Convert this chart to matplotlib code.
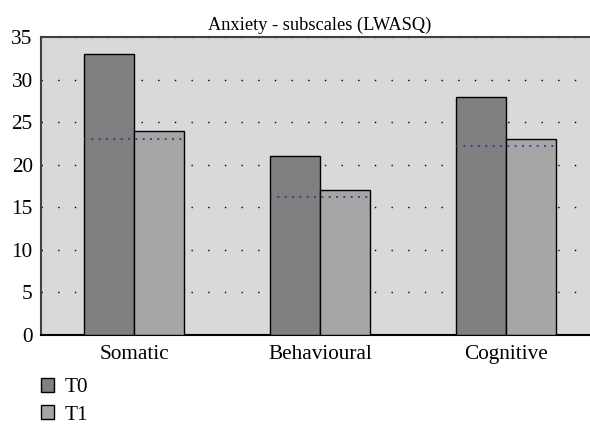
import matplotlib
matplotlib.use("Agg")
import matplotlib.pyplot as plt
from matplotlib.patches import Patch
import numpy as np

categories = ["Somatic", "Behavioural", "Cognitive"]
t0_values = [33, 21, 28]
t1_values = [24, 17, 23]
reference_values = [23, 16.2, 22.2]
series_labels = ["T0", "T1"]
y_ticks = [0, 5, 10, 15, 20, 25, 30, 35]

plt.rcParams['font.family'] = ['Liberation Serif', 'DejaVu Serif']

fig = plt.figure(figsize=(5.9, 4.25), dpi=100)
W, H = 590, 425
left, right, top, bottom = 41, 599, 37, 335
ax = fig.add_axes([left / W, 1 - bottom / H, (right - left) / W, (bottom - top) / H])
ax.set_facecolor('#d9d9d9')

x = np.arange(len(categories))
bw = 0.27
c0, c1 = '#808080', '#a6a6a6'
ax.bar(x - bw / 2, t0_values, bw, color=c0, edgecolor='black', linewidth=1.0, zorder=3)
ax.bar(x + bw / 2, t1_values, bw, color=c1, edgecolor='black', linewidth=1.0, zorder=3)
ax.hlines(reference_values, x - bw, x + bw * 0.95, colors='#2a3a8a',
          linestyles=(0, (1.2, 3.2)), linewidth=1.2, zorder=4)

ax.set_xlim(-0.5, 2.5)
ax.set_ylim(0, 35)
ax.set_yticks(y_ticks)
ax.set_xticks(x)
ax.set_xticklabels(categories)
ax.tick_params(axis='both', length=0, labelsize=15.3)
ax.tick_params(axis='x', pad=7)
ax.tick_params(axis='y', pad=6)
ax.yaxis.grid(True, color='black', linestyle=(0, (1, 11)), linewidth=1.0, zorder=0)
ax.set_axisbelow(True)
for s in ['top', 'left']:
    ax.spines[s].set_color('#404040')
    ax.spines[s].set_linewidth(1.5)
ax.spines['bottom'].set_color('black')
ax.spines['bottom'].set_linewidth(1.5)
ax.spines['right'].set_visible(False)

ax.set_title("Anxiety - subscales (LWASQ)", fontsize=13.2, pad=5)

handles = [Patch(facecolor=c0, edgecolor='black', linewidth=1.0),
           Patch(facecolor=c1, edgecolor='black', linewidth=1.0)]
fig.legend(handles, series_labels, loc='upper left', bbox_to_anchor=(32 / W, 1 - 369 / H),
           frameon=False, fontsize=15.3, handlelength=0.64, handleheight=0.64,
           handletextpad=0.5, labelspacing=0.38, borderaxespad=0)

fig.savefig("out.png", dpi=100)
